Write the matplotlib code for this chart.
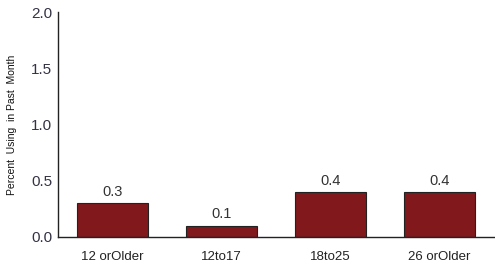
import matplotlib.pyplot as plt

plt.rcParams['font.family'] = ['Liberation Sans', 'DejaVu Sans']

categories = ["12 orOlder", "12to17", "18to25", "26 orOlder"]
values = [0.3, 0.1, 0.4, 0.4]
y_ticks = [0.0, 0.5, 1.0, 1.5, 2.0]

fig = plt.figure(figsize=(4.95, 2.69), dpi=100)
ax = fig.add_axes([0.117, 0.119, 0.881, 0.836])

x = range(len(categories))
ax.bar(x, values, width=0.65, color="#80181c", edgecolor="#222222", linewidth=0.8)

for i, v in zip(x, values):
    ax.text(i, v + 0.04, f"{v:.1f}", ha="center", va="bottom",
            fontsize=10.5, color="#333333")

ax.set_xlim(-0.5, 3.5)
ax.set_ylim(0, 2.0)
ax.set_yticks(y_ticks)
ax.set_yticklabels([f"{t:.1f}" for t in y_ticks], fontsize=11, color="#333344")
ax.set_xticks(list(x))
ax.set_xticklabels(categories, fontsize=9.5, color="#222222")
ax.tick_params(axis="x", length=0, pad=10)
ax.tick_params(axis="y", length=0, pad=4)
ax.set_ylabel("Percent  Using  in Past  Month", fontsize=7.5, color="#111111", labelpad=10)

for s in ["top", "right"]:
    ax.spines[s].set_visible(False)
for s in ["left", "bottom"]:
    ax.spines[s].set_color("#222222")
    ax.spines[s].set_linewidth(1)

fig.savefig("out.png", dpi=100)
